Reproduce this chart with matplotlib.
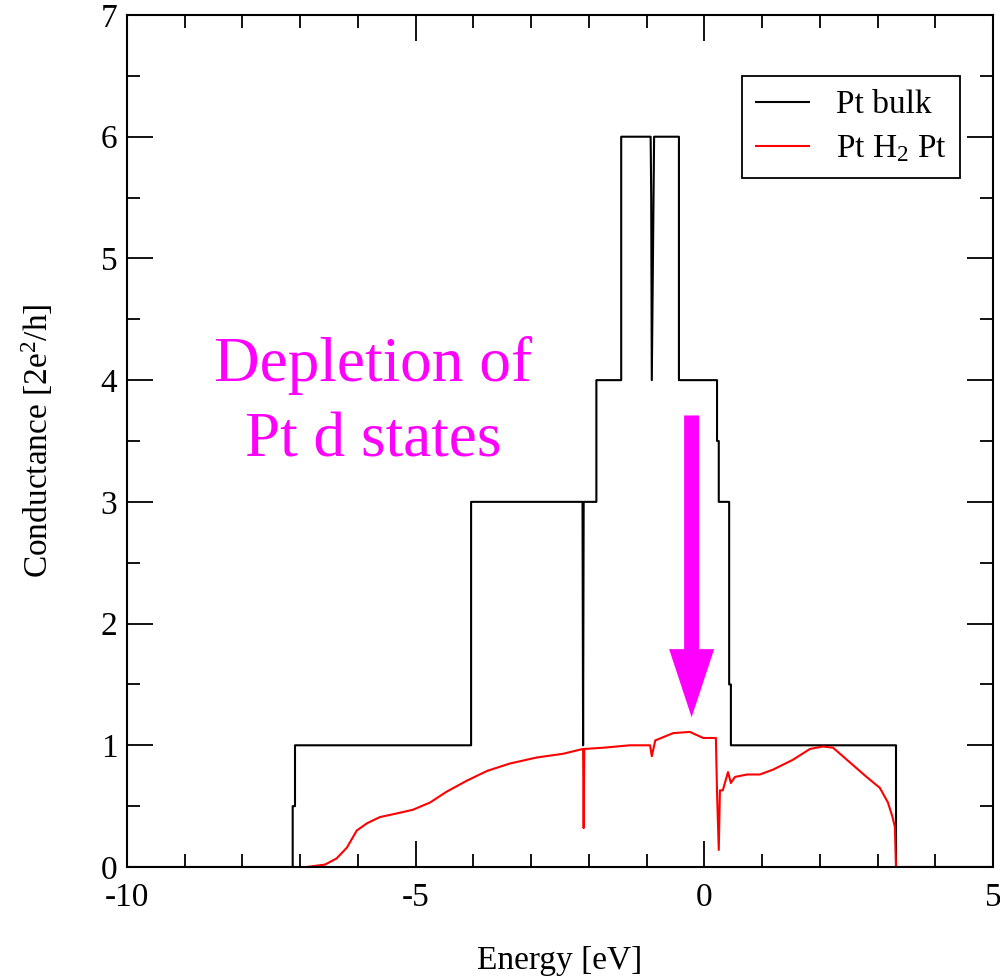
import matplotlib
matplotlib.use("Agg")
import matplotlib.pyplot as plt
from matplotlib.ticker import MultipleLocator

plt.rcParams["font.family"] = ["Liberation Serif", "DejaVu Serif"]
plt.rcParams["mathtext.fontset"] = "custom"
plt.rcParams["mathtext.rm"] = "Liberation Serif"
plt.rcParams["mathtext.it"] = "Liberation Serif:italic"
plt.rcParams["axes.unicode_minus"] = False

# Pt bulk conductance (step-like), energy in eV
bulk_energy = [-10, -7.13, -7.13, -7.09, -7.09, -4.04, -4.04, -2.11, -2.10, -2.09,
               -1.87, -1.87, -1.44, -1.44, -0.93, -0.92, -0.91, -0.88, -0.87,
               -0.44, -0.44, 0.22, 0.22, 0.25, 0.25, 0.43, 0.43, 0.46, 0.46,
               3.32, 3.32, 5]
bulk_cond = [0, 0, 0.5, 0.5, 1, 1, 3, 3, 1.0, 3,
             3, 4, 4, 6, 6, 5.5, 4.0, 5.5, 6,
             6, 4, 4, 3.5, 3.5, 3, 3, 1.5, 1.5, 1,
             1, 0, 0]

# Pt H2 Pt conductance
h2_energy = [-6.89, -6.57, -6.37, -6.19, -6.02, -5.84, -5.62, -5.33, -5.05, -4.75,
             -4.46, -4.11, -3.76, -3.37, -2.90, -2.45, -2.10, -2.09, -2.08, -1.75,
             -1.29, -0.94, -0.91, -0.85, -0.54, -0.25, -0.02, 0.20, 0.22, 0.25,
             0.27, 0.32, 0.41, 0.46, 0.53, 0.74, 0.96, 1.19, 1.53, 1.83,
             2.05, 2.23, 2.52, 2.81, 3.04, 3.18, 3.26, 3.30, 3.32, 5]
h2_cond = [0.0, 0.02, 0.07, 0.16, 0.30, 0.36, 0.41, 0.44, 0.47, 0.53,
           0.62, 0.71, 0.79, 0.85, 0.90, 0.93, 0.97, 0.32, 0.97, 0.98,
           1.00, 1.00, 0.91, 1.04, 1.10, 1.11, 1.06, 1.06, 0.61, 0.14,
           0.63, 0.63, 0.78, 0.69, 0.74, 0.76, 0.76, 0.80, 0.88, 0.97,
           0.99, 0.98, 0.86, 0.74, 0.65, 0.53, 0.41, 0.33, 0.0, 0.0]

fig = plt.figure(figsize=(10, 9.8), dpi=100)
ax = fig.add_axes([0.127, 0.1153, 0.866, 0.8694])

ax.plot(bulk_energy, bulk_cond, color="black", lw=1.5, label="Pt bulk")
ax.plot(h2_energy, h2_cond, color="red", lw=1.5, label="Pt H$_2$ Pt")

ax.set_xlim(-10, 5)
ax.set_ylim(0, 7)
ax.xaxis.set_major_locator(MultipleLocator(5))
ax.xaxis.set_minor_locator(MultipleLocator(1))
ax.yaxis.set_major_locator(MultipleLocator(1))
ax.yaxis.set_minor_locator(MultipleLocator(0.5))
ax.tick_params(which="both", direction="in", top=True, right=True, width=1.3,
               labelsize=24)
ax.tick_params(which="major", length=18.5)
ax.tick_params(which="minor", length=9.5)
ax.tick_params(axis="x", which="major", pad=11.5)
ax.tick_params(axis="y", which="major", pad=7)
for s in ax.spines.values():
    s.set_linewidth(1.5)

ax.set_xlabel("Energy [eV]", fontsize=24, labelpad=23)
ax.set_ylabel("Conductance [2e$^2$/h]", fontsize=24, labelpad=33)

leg = ax.legend(loc="upper right", bbox_to_anchor=(0.962, 0.928), fontsize=24,
                fancybox=False, edgecolor="black", framealpha=1,
                handlelength=1.6, handletextpad=0.8, labelspacing=0.4,
                borderpad=0.4, borderaxespad=0)
leg.get_frame().set_linewidth(1.3)

ax.text(-5.73, 3.99, "Depletion of", color="magenta", fontsize=45.5,
        ha="center", va="baseline")
ax.text(-5.73, 3.37, "Pt d states", color="magenta", fontsize=45.5,
        ha="center", va="baseline")
ax.arrow(-0.22, 3.71, 0, 1.23 - 3.71, width=0.26, head_width=0.78,
         head_length=0.56, length_includes_head=True, color="magenta", lw=0)

fig.savefig("out.png", dpi=100)
